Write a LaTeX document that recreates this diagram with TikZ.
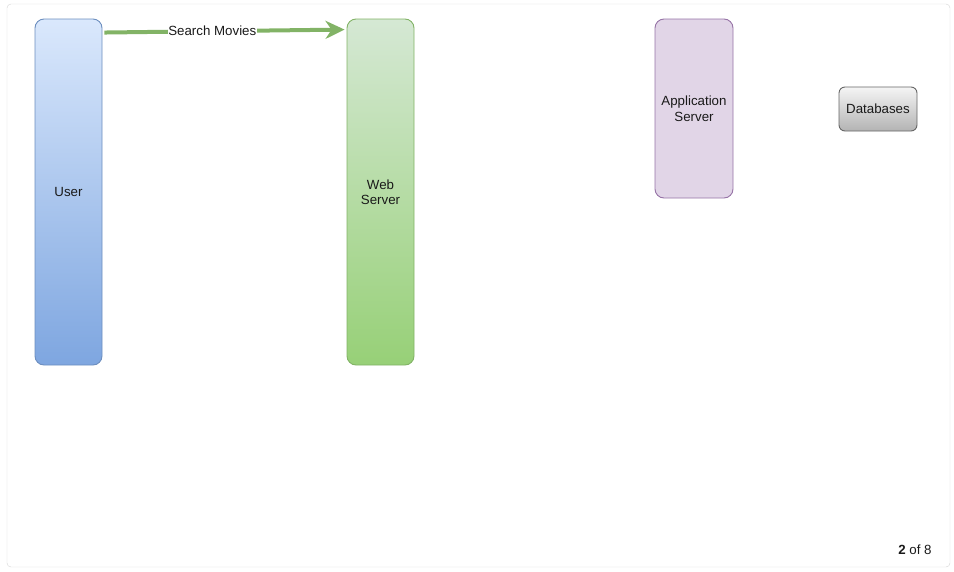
\documentclass[tikz,border=0pt]{standalone}
\usepackage{fontspec}
\setmainfont{Liberation Sans}
\usetikzlibrary{arrows.meta,positioning}

\definecolor{userfill}{HTML}{DAE8FC}
\definecolor{userbot}{HTML}{7EA6E0}
\definecolor{userline}{HTML}{6C8EBF}
\definecolor{webfill}{HTML}{D5E8D4}
\definecolor{webbot}{HTML}{97D077}
\definecolor{webline}{HTML}{82B366}
\definecolor{appfill}{HTML}{E1D5E7}
\definecolor{appline}{HTML}{9673A6}
\definecolor{dbfill}{HTML}{F5F5F5}
\definecolor{dbbot}{HTML}{B3B3B3}
\definecolor{dbline}{HTML}{666666}
\definecolor{framegray}{HTML}{D4D4D4}
\definecolor{textgray}{HTML}{1A1A1A}

\begin{document}
\begin{tikzpicture}[x=1pt, y=-1pt,
    every node/.style={font=\fontsize{13.3}{15.5}\selectfont, text=textgray},
    box/.style={rounded corners=9pt, line width=0.9pt, align=center,
      inner sep=0pt},
    lane/.style={box, minimum width=67pt, minimum height=346pt}]

    % The page frame
    \useasboundingbox (0,0) rectangle (954,571);
    \draw[framegray, rounded corners=4pt] (7,4) rectangle (950,567);

    % Next, the boxes
    \node[lane, draw=userline, top color=userfill, bottom color=userbot]
      (user) at (68.5,192) {User};
    \node[lane, draw=webline, top color=webfill, bottom color=webbot]
      (web) at (380.5,192) {Web\\Server};
    \node[box, draw=appline, fill=appfill, minimum width=78pt,
      minimum height=179pt] (app) at (694,108.5) {Application\\Server};
    \node[box, rounded corners=6pt, draw=dbline, top color=dbfill,
      bottom color=dbbot, minimum width=78pt, minimum height=44pt]
      (db) at (878,109) {Databases};

    % The request
    \draw[-{Stealth[length=19pt, width=18pt, inset=6pt]}, webline,
      line width=4pt, shorten <=2pt, shorten >=2pt]
      ([yshift=-14pt]user.north east) -- ([yshift=-11pt]web.north west)
      node[pos=0.45, fill=white, inner sep=0.5pt] (req) {Search Movies};

    \node (page) at (915,550) {\textbf{2} of 8};
  \end{tikzpicture}
\end{document}
